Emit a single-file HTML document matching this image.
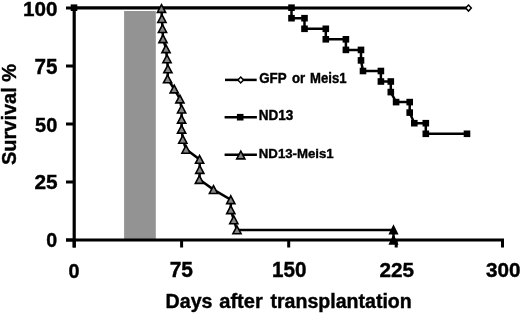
<!DOCTYPE html>
<html><head><meta charset="utf-8"><style>
html,body{margin:0;padding:0;background:#fff;width:520px;height:313px;overflow:hidden}
svg{display:block;filter:grayscale(1)}
</style></head><body>
<svg width="520" height="313" viewBox="0 0 520 313">
<rect x="0" y="0" width="520" height="313" fill="#fff"/>
<rect x="124.1" y="11" width="31.7" height="229" fill="#939393"/>
<line x1="74.2" y1="6.5" x2="74.2" y2="247.5" stroke="#000" stroke-width="3.2"/>
<line x1="66" y1="240" x2="504" y2="240" stroke="#000" stroke-width="3.2"/>
<line x1="66" y1="240.0" x2="74.2" y2="240.0" stroke="#000" stroke-width="3"/>
<line x1="66" y1="182.0" x2="74.2" y2="182.0" stroke="#000" stroke-width="3"/>
<line x1="66" y1="124.0" x2="74.2" y2="124.0" stroke="#000" stroke-width="3"/>
<line x1="66" y1="66.0" x2="74.2" y2="66.0" stroke="#000" stroke-width="3"/>
<line x1="66" y1="8.0" x2="74.2" y2="8.0" stroke="#000" stroke-width="3"/>
<line x1="74.2" y1="240" x2="74.2" y2="247.5" stroke="#000" stroke-width="3"/>
<line x1="181.6" y1="240" x2="181.6" y2="247.5" stroke="#000" stroke-width="3"/>
<line x1="288.7" y1="240" x2="288.7" y2="247.5" stroke="#000" stroke-width="3"/>
<line x1="396.2" y1="240" x2="396.2" y2="247.5" stroke="#000" stroke-width="3"/>
<line x1="502.5" y1="240" x2="502.5" y2="247.5" stroke="#000" stroke-width="3"/>
<line x1="74.2" y1="8" x2="468.5" y2="8" stroke="#000" stroke-width="2.8"/>
<polygon points="468.5,5.1 471.3,8.1 468.5,11.1 465.7,8.1" fill="#fff" stroke="#000" stroke-width="1.5"/>
<polyline points="74.0,7.7 291.5,7.7 291.5,18.2 304.5,18.2 304.5,28.8 325.8,28.8 325.8,39.3 345.9,39.3 345.9,49.9 361.0,49.9 361.0,60.4 363.0,71.0 380.9,71.0 380.9,81.5 390.8,81.5 390.8,92.1 396.1,102.1 409.7,102.1 409.7,112.6 414.3,123.2 425.8,123.2 425.8,133.8 467.0,133.8" fill="none" stroke="#000" stroke-width="2.5"/>
<rect x="70.7" y="4.4" width="6.6" height="6.6" fill="#000"/>
<rect x="288.2" y="4.4" width="6.6" height="6.6" fill="#000"/>
<rect x="288.2" y="14.9" width="6.6" height="6.6" fill="#000"/>
<rect x="301.2" y="14.9" width="6.6" height="6.6" fill="#000"/>
<rect x="301.2" y="25.5" width="6.6" height="6.6" fill="#000"/>
<rect x="322.5" y="25.5" width="6.6" height="6.6" fill="#000"/>
<rect x="322.5" y="36.0" width="6.6" height="6.6" fill="#000"/>
<rect x="342.6" y="36.0" width="6.6" height="6.6" fill="#000"/>
<rect x="342.6" y="46.6" width="6.6" height="6.6" fill="#000"/>
<rect x="357.7" y="46.6" width="6.6" height="6.6" fill="#000"/>
<rect x="357.7" y="57.1" width="6.6" height="6.6" fill="#000"/>
<rect x="359.7" y="67.7" width="6.6" height="6.6" fill="#000"/>
<rect x="377.6" y="67.7" width="6.6" height="6.6" fill="#000"/>
<rect x="377.6" y="78.2" width="6.6" height="6.6" fill="#000"/>
<rect x="387.5" y="78.2" width="6.6" height="6.6" fill="#000"/>
<rect x="387.5" y="88.8" width="6.6" height="6.6" fill="#000"/>
<rect x="392.8" y="98.8" width="6.6" height="6.6" fill="#000"/>
<rect x="406.4" y="98.8" width="6.6" height="6.6" fill="#000"/>
<rect x="406.4" y="109.3" width="6.6" height="6.6" fill="#000"/>
<rect x="411.0" y="119.9" width="6.6" height="6.6" fill="#000"/>
<rect x="422.5" y="119.9" width="6.6" height="6.6" fill="#000"/>
<rect x="422.5" y="130.5" width="6.6" height="6.6" fill="#000"/>
<rect x="463.7" y="130.5" width="6.6" height="6.6" fill="#000"/>
<polyline points="161.5,8.5 161.9,18.6 162.5,28.6 163.0,38.7 166.0,48.7 167.0,58.8 167.9,68.9 167.6,78.9 174.2,89.0 179.9,99.0 181.6,109.1 181.6,119.2 181.6,129.2 182.8,139.3 186.0,149.3 199.6,159.4 199.8,169.5 199.4,179.5 213.5,189.6 230.8,199.7 230.8,209.7 233.8,219.8 237.0,229.9 393.5,229.9 393.5,240.0" fill="none" stroke="#000" stroke-width="2.5"/>
<polygon points="161.5,4.6 165.6,12.4 157.4,12.4" fill="#858585" stroke="#000" stroke-width="1.6" stroke-linejoin="miter"/>
<polygon points="161.9,14.7 166.0,22.5 157.8,22.5" fill="#858585" stroke="#000" stroke-width="1.6" stroke-linejoin="miter"/>
<polygon points="162.5,24.7 166.6,32.5 158.4,32.5" fill="#858585" stroke="#000" stroke-width="1.6" stroke-linejoin="miter"/>
<polygon points="163.0,34.8 167.1,42.6 158.9,42.6" fill="#858585" stroke="#000" stroke-width="1.6" stroke-linejoin="miter"/>
<polygon points="166.0,44.8 170.1,52.6 161.9,52.6" fill="#858585" stroke="#000" stroke-width="1.6" stroke-linejoin="miter"/>
<polygon points="167.0,54.9 171.1,62.7 162.9,62.7" fill="#858585" stroke="#000" stroke-width="1.6" stroke-linejoin="miter"/>
<polygon points="167.9,65.0 172.0,72.8 163.8,72.8" fill="#858585" stroke="#000" stroke-width="1.6" stroke-linejoin="miter"/>
<polygon points="167.6,75.0 171.7,82.8 163.5,82.8" fill="#858585" stroke="#000" stroke-width="1.6" stroke-linejoin="miter"/>
<polygon points="174.2,85.1 178.3,92.9 170.1,92.9" fill="#858585" stroke="#000" stroke-width="1.6" stroke-linejoin="miter"/>
<polygon points="179.9,95.1 184.0,102.9 175.8,102.9" fill="#858585" stroke="#000" stroke-width="1.6" stroke-linejoin="miter"/>
<polygon points="181.6,105.2 185.7,113.0 177.5,113.0" fill="#858585" stroke="#000" stroke-width="1.6" stroke-linejoin="miter"/>
<polygon points="181.6,115.3 185.7,123.1 177.5,123.1" fill="#858585" stroke="#000" stroke-width="1.6" stroke-linejoin="miter"/>
<polygon points="181.6,125.3 185.7,133.1 177.5,133.1" fill="#858585" stroke="#000" stroke-width="1.6" stroke-linejoin="miter"/>
<polygon points="182.8,135.4 186.9,143.2 178.7,143.2" fill="#858585" stroke="#000" stroke-width="1.6" stroke-linejoin="miter"/>
<polygon points="186.0,145.4 190.1,153.2 181.9,153.2" fill="#858585" stroke="#000" stroke-width="1.6" stroke-linejoin="miter"/>
<polygon points="199.6,155.5 203.7,163.3 195.5,163.3" fill="#858585" stroke="#000" stroke-width="1.6" stroke-linejoin="miter"/>
<polygon points="199.8,165.6 203.9,173.4 195.7,173.4" fill="#858585" stroke="#000" stroke-width="1.6" stroke-linejoin="miter"/>
<polygon points="199.4,175.6 203.5,183.4 195.3,183.4" fill="#858585" stroke="#000" stroke-width="1.6" stroke-linejoin="miter"/>
<polygon points="213.5,185.7 217.6,193.5 209.4,193.5" fill="#858585" stroke="#000" stroke-width="1.6" stroke-linejoin="miter"/>
<polygon points="230.8,195.8 234.9,203.6 226.7,203.6" fill="#858585" stroke="#000" stroke-width="1.6" stroke-linejoin="miter"/>
<polygon points="230.8,205.8 234.9,213.6 226.7,213.6" fill="#858585" stroke="#000" stroke-width="1.6" stroke-linejoin="miter"/>
<polygon points="233.8,215.9 237.9,223.7 229.7,223.7" fill="#858585" stroke="#000" stroke-width="1.6" stroke-linejoin="miter"/>
<polygon points="237.0,226.0 241.1,233.8 232.9,233.8" fill="#858585" stroke="#000" stroke-width="1.6" stroke-linejoin="miter"/>
<polygon points="393.5,226.0 397.3,233.8 389.7,233.8" fill="#000" stroke="#000" stroke-width="1.6" stroke-linejoin="miter"/>
<polygon points="393.5,236.1 397.3,243.9 389.7,243.9" fill="#000" stroke="#000" stroke-width="1.6" stroke-linejoin="miter"/>
<line x1="225" y1="79.9" x2="256.7" y2="79.9" stroke="#000" stroke-width="2.5"/>
<polygon points="240.7,77.0 243.5,80.0 240.7,83.0 237.9,80.0" fill="#fff" stroke="#000" stroke-width="1.5"/>
<line x1="224.6" y1="117.2" x2="256.9" y2="117.2" stroke="#000" stroke-width="2.5"/>
<rect x="236.9" y="113.9" width="6.6" height="6.6" fill="#000"/>
<line x1="224.6" y1="154.8" x2="256.9" y2="154.8" stroke="#000" stroke-width="2.5"/>
<polygon points="240.8,151.1 244.9,158.9 236.7,158.9" fill="#858585" stroke="#000" stroke-width="1.6" stroke-linejoin="miter"/>
<text transform="translate(259.14,83.31) scale(0.9529,1.0313)" font-family="Liberation Sans, sans-serif" font-weight="bold" font-size="14" stroke="#000" stroke-width="0.4">GFP</text>
<text transform="translate(292.05,83.20) scale(0.9394,1.0000)" font-family="Liberation Sans, sans-serif" font-weight="bold" font-size="14" stroke="#000" stroke-width="0.4">or</text>
<text transform="translate(310.10,83.33) scale(0.9368,0.9953)" font-family="Liberation Sans, sans-serif" font-weight="bold" font-size="14" stroke="#000" stroke-width="0.4">Meis1</text>
<text transform="translate(258.77,120.02) scale(0.9669,1.0024)" font-family="Liberation Sans, sans-serif" font-weight="bold" font-size="14" stroke="#000" stroke-width="0.4">ND13</text>
<text transform="translate(258.79,157.65) scale(0.9452,0.9302)" font-family="Liberation Sans, sans-serif" font-weight="bold" font-size="14" stroke="#000" stroke-width="0.4">ND13-Meis1</text>
<text transform="translate(165.59,307.90) scale(0.9826,1.0000)" font-family="Liberation Sans, sans-serif" font-weight="bold" font-size="20" stroke="#000" stroke-width="0.4">Days</text>
<text transform="translate(219.22,307.90) scale(1.0052,1.0000)" font-family="Liberation Sans, sans-serif" font-weight="bold" font-size="20" stroke="#000" stroke-width="0.4">after</text>
<text transform="translate(270.40,307.90) scale(0.9793,1.0000)" font-family="Liberation Sans, sans-serif" font-weight="bold" font-size="20" stroke="#000" stroke-width="0.4">transplantation</text>
<text transform="translate(23.09,15.83) scale(0.9835,0.9869)" font-family="Liberation Sans, sans-serif" font-weight="bold" font-size="21" stroke="#000" stroke-width="0.4">100</text>
<text transform="translate(34.46,73.81) scale(0.9843,1.0400)" font-family="Liberation Sans, sans-serif" font-weight="bold" font-size="21" stroke="#000" stroke-width="0.4">75</text>
<text transform="translate(35.04,131.63) scale(0.9520,0.9836)" font-family="Liberation Sans, sans-serif" font-weight="bold" font-size="21" stroke="#000" stroke-width="0.4">50</text>
<text transform="translate(34.45,189.23) scale(0.9933,0.9967)" font-family="Liberation Sans, sans-serif" font-weight="bold" font-size="21" stroke="#000" stroke-width="0.4">25</text>
<text transform="translate(46.32,247.23) scale(0.9349,0.9967)" font-family="Liberation Sans, sans-serif" font-weight="bold" font-size="21" stroke="#000" stroke-width="0.4">0</text>
<text transform="translate(68.61,277.62) scale(0.9446,1.0033)" font-family="Liberation Sans, sans-serif" font-weight="bold" font-size="21" stroke="#000" stroke-width="0.4">0</text>
<text transform="translate(169.65,277.42) scale(0.9978,1.0200)" font-family="Liberation Sans, sans-serif" font-weight="bold" font-size="21" stroke="#000" stroke-width="0.4">75</text>
<text transform="translate(272.09,277.22) scale(0.9835,1.0098)" font-family="Liberation Sans, sans-serif" font-weight="bold" font-size="21" stroke="#000" stroke-width="0.4">150</text>
<text transform="translate(379.61,277.03) scale(0.9861,0.9967)" font-family="Liberation Sans, sans-serif" font-weight="bold" font-size="21" stroke="#000" stroke-width="0.4">225</text>
<text transform="translate(486.05,277.03) scale(0.9846,0.9967)" font-family="Liberation Sans, sans-serif" font-weight="bold" font-size="21" stroke="#000" stroke-width="0.4">300</text>
<text transform="translate(16.2,114.5) rotate(-90)" font-family="Liberation Sans, sans-serif" font-weight="bold" font-size="20" text-anchor="middle" stroke="#000" stroke-width="0.4">Survival %</text>
</svg>
</body></html>
